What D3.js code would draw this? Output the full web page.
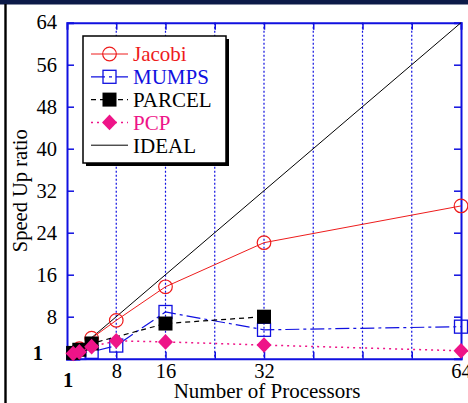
<!DOCTYPE html>
<html>
<head>
<meta charset="utf-8">
<script src="https://cdn.jsdelivr.net/npm/d3@7"></script>
<style>
  html, body { margin: 0; padding: 0; background: #fff; }
  svg { display: block; }
  text { font-family: "Liberation Serif", "Times New Roman", serif; }
</style>
</head>
<body>
<svg id="chart" width="468" height="403"></svg>
<script>
// Speed-up measurements per solver, by processor count
const procs = [1, 2, 4, 8, 16, 32, 64];
const jacobi = [1, 1.9, 3.9, 7.3, 13.7, 22.1, 29.1];
const mumps = [1, 1.1, 1.3, 2.5, 8.9, 5.5, 6.1];
const parcelProcs = [1, 2, 4, 16, 32];
const parcel = [1.1, 1.7, 2.9, 6.7, 8.0];
const pcp = [1, 1.3, 2.3, 3.4, 3.2, 2.6, 1.5];
const idealProcs = [1, 64];
const ideal = [1, 64];

const xTickLabels = [8, 16, 32, 64];
const xGrid = [8, 16, 24, 32, 40, 48, 56];
const yTickLabels = [8, 16, 24, 32, 40, 48, 56, 64];

const svg = d3.select("#chart");
const W = 468, H = 403;

const x = d3.scaleLinear().domain([0, 64]).range([67, 461]);
const y = d3.scaleLinear().domain([0, 64]).range([358.7, 22.7]);

const BLUE = "#1010e0";
const RED = "#ee1c1c";
const PINK = "#ee1488";

// page frame
svg.append("rect").attr("x", 0).attr("y", 0).attr("width", W).attr("height", 4.5).attr("fill", "#0c1a48");
svg.append("rect").attr("x", 4.3).attr("y", 4).attr("width", 2.4).attr("height", H - 4).attr("fill", "#000");

// vertical dotted grid
svg.append("g").selectAll("line").data(xGrid).join("line")
  .attr("x1", d => x(d)).attr("x2", d => x(d))
  .attr("y1", y(64)).attr("y2", y(0))
  .attr("stroke", BLUE).attr("stroke-width", 1.2)
  .attr("stroke-dasharray", "2,2");

// axes with inward ticks
const fontSize = 20.5;
const axL = svg.append("g").attr("transform", `translate(${x(0)},0)`)
  .call(d3.axisLeft(y).tickValues(yTickLabels.slice(0, -1)).tickSize(-7).tickPadding(10).tickFormat(d3.format("d")));
const axR = svg.append("g").attr("transform", `translate(${x(64)},0)`)
  .call(d3.axisRight(y).tickValues(yTickLabels.slice(0, -1)).tickSize(-7).tickFormat(""));
const axB = svg.append("g").attr("transform", `translate(0,${y(0)})`)
  .call(d3.axisBottom(x).tickValues(xGrid.concat([64])).tickSize(-7).tickPadding(5)
    .tickFormat(d => xTickLabels.includes(d) ? d : ""));
const axT = svg.append("g").attr("transform", `translate(0,${y(64)})`)
  .call(d3.axisTop(x).tickValues(xGrid).tickSize(-7).tickFormat(""));

[axL, axR, axB, axT].forEach(g => {
  g.select(".domain").attr("stroke", BLUE).attr("stroke-width", 2);
  g.selectAll(".tick line").attr("stroke", BLUE).attr("stroke-width", 1.5);
  g.selectAll(".tick text").attr("fill", "#000").attr("font-size", fontSize)
    .attr("font-family", "'Liberation Serif', 'Times New Roman', serif");
});

// top "64" label on the left axis
svg.append("text").attr("x", x(0) - 10).attr("y", y(64)).attr("dy", "0.32em")
  .attr("text-anchor", "end").attr("font-size", fontSize).text("64");

// bold origin labels
svg.append("text").attr("x", x(0) - 24).attr("y", y(1)).attr("dy", "0.3em")
  .attr("text-anchor", "end").attr("font-size", fontSize).attr("font-weight", "bold").text("1");
svg.append("text").attr("x", x(0) + 1).attr("y", y(0) + 28).attr("text-anchor", "middle")
  .attr("font-size", fontSize).attr("font-weight", "bold").text("1");

// axis titles
svg.append("text").attr("x", (x(0) + x(64)) / 2 + 3).attr("y", 398)
  .attr("text-anchor", "middle").attr("font-size", 21).text("Number of Processors");
svg.append("text").attr("transform", `translate(27,${(y(0) + y(64)) / 2}) rotate(-90)`)
  .attr("text-anchor", "middle").attr("font-size", 20.5).text("Speed Up ratio");

// series
const lineGen = (xs, ys) => d3.line().x((d, i) => x(xs[i])).y(d => y(d))(ys);

svg.append("path").attr("d", lineGen(idealProcs, ideal))
  .attr("fill", "none").attr("stroke", "#000").attr("stroke-width", 1);

const series = [
  { name: "Jacobi", xs: procs, ys: jacobi, color: RED, dash: null, width: 1, marker: "circle" },
  { name: "MUMPS", xs: procs, ys: mumps, color: BLUE, dash: "14,4,3,4", width: 1.2, marker: "square" },
  { name: "PARCEL", xs: parcelProcs, ys: parcel, color: "#000", dash: "5,4", width: 1.2, marker: "fsquare" },
  { name: "PCP", xs: procs, ys: pcp, color: PINK, dash: "2,4", width: 1.5, marker: "diamond" },
];

function drawMarker(g, type, cx, cy, color) {
  if (type === "circle") {
    g.append("circle").attr("cx", cx).attr("cy", cy).attr("r", 6.8)
      .attr("fill", "none").attr("stroke", color).attr("stroke-width", 1.2);
  } else if (type === "square") {
    g.append("rect").attr("x", cx - 6.5).attr("y", cy - 6.5).attr("width", 13).attr("height", 13)
      .attr("fill", "none").attr("stroke", color).attr("stroke-width", 1.3);
  } else if (type === "fsquare") {
    g.append("rect").attr("x", cx - 7).attr("y", cy - 7).attr("width", 14).attr("height", 14)
      .attr("fill", color);
  } else if (type === "diamond") {
    g.append("path").attr("d", `M${cx},${cy - 7.8}L${cx + 7.5},${cy}L${cx},${cy + 7.8}L${cx - 7.5},${cy}Z`)
      .attr("fill", color);
  }
}

series.forEach(s => {
  const g = svg.append("g");
  g.append("path").attr("d", lineGen(s.xs, s.ys))
    .attr("fill", "none").attr("stroke", s.color).attr("stroke-width", s.width)
    .attr("stroke-dasharray", s.dash);
  s.xs.forEach((px, i) => drawMarker(g, s.marker, x(px), y(s.ys[i]), s.color));
});

// legend
const lg = svg.append("g");
const lx = 83, ly = 36, lw = 143, lh = 127;
lg.append("rect").attr("x", lx + 3).attr("y", ly + 3).attr("width", lw).attr("height", lh).attr("fill", "#000");
lg.append("rect").attr("x", lx).attr("y", ly).attr("width", lw).attr("height", lh)
  .attr("fill", "#fff").attr("stroke", "#000").attr("stroke-width", 1.5);

const legendItems = series.concat([{ name: "IDEAL", color: "#000", dash: null, width: 1, marker: null }]);
const textColors = { Jacobi: RED, MUMPS: BLUE, PARCEL: "#000", PCP: PINK, IDEAL: "#000" };
legendItems.forEach((s, i) => {
  const cy = 54 + i * 22.8;
  lg.append("line").attr("x1", 91).attr("x2", 128).attr("y1", cy).attr("y2", cy)
    .attr("stroke", s.color).attr("stroke-width", s.width).attr("stroke-dasharray", s.dash);
  if (s.marker) drawMarker(lg, s.marker, 109.5, cy, s.color);
  lg.append("text").attr("x", 133).attr("y", cy).attr("dy", "0.35em")
    .attr("font-size", 21).attr("fill", textColors[s.name]).text(s.name);
});
</script>
</body>
</html>
